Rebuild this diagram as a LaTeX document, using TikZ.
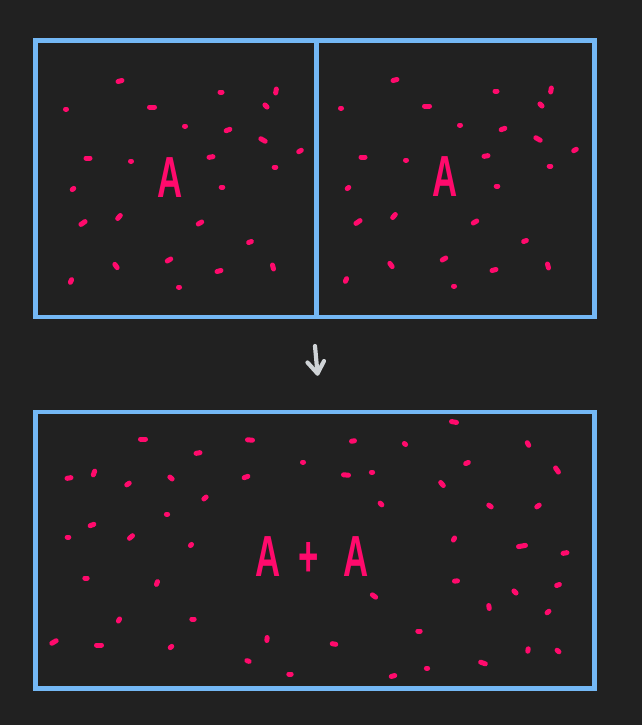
\documentclass[tikz,border=0pt]{standalone}
\usepackage{fontspec}
\setmainfont{Liberation Sans}
\definecolor{bg}{HTML}{212121}
\definecolor{boxblue}{HTML}{74B8F5}
\definecolor{dotpink}{HTML}{FF0A6C}
\definecolor{arrowgrey}{HTML}{CFD3D6}
\newcommand\pk[4]{\draw[dotmark] (#1,#2) ++(#3:#4) -- ++(#3+180:2*#4);}
\begin{document}
\begin{tikzpicture}[x=1pt,y=-1pt,
  frame/.style={draw=boxblue,line width=4.1pt,inner sep=0pt,outer sep=0pt},
  dotmark/.style={dotpink,line width=5pt,line cap=round},
  letter/.style={text=dotpink,font=\fontsize{58}{58}\selectfont\bfseries,inner sep=0pt},
  arrowline/.style={arrowgrey,line width=4.2pt,line cap=round,line join=round}]
\fill[bg] (0,0) rectangle (642,725);
\useasboundingbox (0,0) rectangle (642,725);
% boxes
\node[frame,minimum width=281pt,minimum height=276.5pt] (left) at (176,178.75) {};
\node[frame,minimum width=278pt,minimum height=276.5pt] (right) at (455.5,178.75) {};
\node[frame,minimum width=559pt,minimum height=276.5pt] (bottom) at (315,550.25) {};
% texts
\node[letter] (a1) at (170,178) {\scalebox{0.6}[1]{A}};
\node[letter] (a2) at (445,177) {\scalebox{0.6}[1]{A}};
\node[letter] (sum) at (312,557) {\scalebox{0.6}[1]{A \hspace{14pt}+ \hspace{24pt}A}};
% arrow
\coordinate (arrowtop) at (315,346);
\coordinate (arrowtip) at (317.5,373.5);
\draw[arrowline] (arrowtop) -- (arrowtip);
\draw[arrowline] (307.5,362.5) -- (arrowtip) -- (324,361);
% dots in the two top halves
\foreach \dx/\dy in {0/0,275/-1}{
\begin{scope}[shift={(\dx,\dy)}]
\pk{120}{81}{-15}{2}
\pk{66}{109}{0}{0.5}
\pk{152}{107}{0}{2.5}
\pk{221}{92}{0}{1}
\pk{276}{91}{100}{2}
\pk{266}{106}{45}{1.5}
\pk{185}{126}{0}{0.5}
\pk{228}{130}{-20}{2}
\pk{263}{140}{30}{2.5}
\pk{300}{151}{-30}{1.5}
\pk{88}{158}{0}{2}
\pk{131}{161}{0}{0.5}
\pk{211}{157}{-10}{2}
\pk{275}{167}{0}{0.8}
\pk{73}{189}{-40}{1}
\pk{222}{187}{0}{0.8}
\pk{83}{223}{-35}{2.5}
\pk{119}{217}{-50}{2}
\pk{200}{223}{-30}{2}
\pk{250}{242}{-20}{1.5}
\pk{116}{266}{55}{2}
\pk{169}{260}{-30}{2}
\pk{219}{271}{-15}{2}
\pk{273}{267}{75}{2}
\pk{71}{281}{-65}{1.5}
\pk{179}{287}{0}{0.5}
\end{scope}}
% dots in the bottom box
\pk{143}{439}{0}{2.5}
\pk{250}{440}{5}{2.5}
\pk{198}{453}{-10}{2}
\pk{303}{462}{0}{0.5}
\pk{69}{478}{-10}{2}
\pk{94}{473}{-70}{2}
\pk{128}{484}{-35}{1.5}
\pk{171}{478}{40}{1.5}
\pk{246}{477}{-20}{2}
\pk{205}{498}{-40}{1.5}
\pk{167}{514}{0}{0.6}
\pk{92}{525}{-20}{2}
\pk{68}{537}{0}{0.8}
\pk{131}{537}{-40}{2}
\pk{191}{545}{-45}{0.8}
\pk{86}{578}{0}{1.2}
\pk{157}{583}{-70}{1.5}
\pk{119}{620}{-60}{1.2}
\pk{193}{619}{0}{1.2}
\pk{54}{642}{-30}{2.5}
\pk{99}{645}{0}{2.5}
\pk{171}{647}{-40}{1}
\pk{267}{639}{95}{1.5}
\pk{248}{661}{20}{1.2}
\pk{290}{674}{0}{1.2}
\pk{454}{422}{10}{2.5}
\pk{353}{441}{-10}{1.5}
\pk{405}{444}{40}{0.8}
\pk{528}{444}{60}{1.5}
\pk{467}{463}{-25}{1.5}
\pk{346}{475}{5}{2.5}
\pk{372}{472}{0}{0.6}
\pk{442}{484}{50}{2}
\pk{557}{470}{55}{2.5}
\pk{381}{504}{45}{1.2}
\pk{490}{506}{35}{1.5}
\pk{538}{506}{-35}{1.5}
\pk{454}{539}{-60}{1.2}
\pk{522}{546}{-10}{3.5}
\pk{565}{553}{-10}{2}
\pk{456}{581}{-5}{1.5}
\pk{515}{592}{45}{1.5}
\pk{558}{585}{-20}{1.5}
\pk{374}{596}{35}{2}
\pk{489}{607}{80}{1.5}
\pk{548}{612}{-40}{1.2}
\pk{419}{631}{0}{1.2}
\pk{334}{644}{10}{1.8}
\pk{528}{650}{-80}{1.2}
\pk{558}{651}{40}{1.2}
\pk{483}{663}{20}{2.5}
\pk{427}{668}{0}{0.6}
\pk{393}{676}{-15}{1.8}
\end{tikzpicture}
\end{document}
